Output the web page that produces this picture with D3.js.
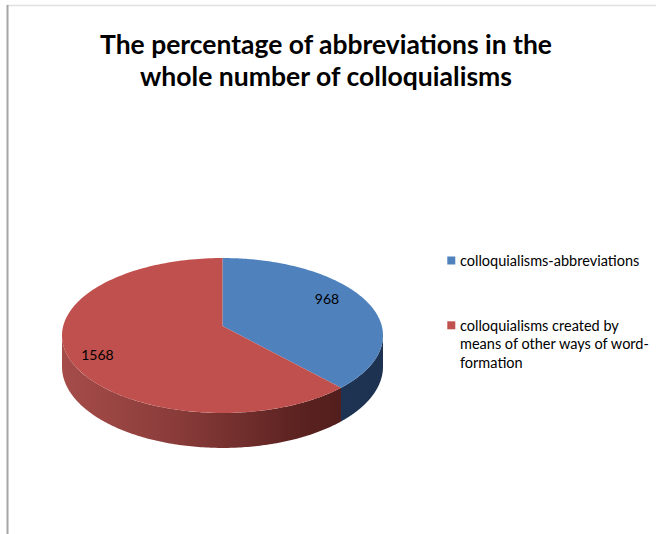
<!DOCTYPE html>
<html><head><meta charset="utf-8">
<script src="https://cdn.jsdelivr.net/npm/d3@7"></script>
<style>body{margin:0;background:#fff}svg{display:block}</style>
</head><body>
<script>
const categories = ["colloquialisms-abbreviations", "colloquialisms created by means of other ways of word-formation"];
const values = [968, 1568];
const legendLines = [["colloquialisms-abbreviations"], ["colloquialisms created by", "means of other ways of word-", "formation"]];
const titleLines = ["The percentage of abbreviations in the", "whole number of colloquialisms"];
const topColors = ["#4f81bd", "#c0504d"];

const W = 656, H = 534;
const svg = d3.select("body").append("svg").attr("width", W).attr("height", H);

// frame
svg.append("line").attr("x1", 7).attr("x2", W).attr("y1", 5.5).attr("y2", 5.5).attr("stroke", "#e0e0e0").attr("stroke-width", 1.5);
svg.append("line").attr("x1", 7.5).attr("x2", 7.5).attr("y1", 5).attr("y2", H).attr("stroke", "#a6a6a6").attr("stroke-width", 2);

// title
const title = svg.append("g").attr("font-family", "Lato, 'Open Sans', sans-serif").attr("font-weight", "bold").attr("font-size", 26).attr("fill", "#000").attr("text-anchor", "middle");
const titleW = [452, 372];
titleLines.forEach((t, i) => {
  title.append("text").attr("x", 326).attr("y", 54 + i * 32).attr("textLength", titleW[i]).attr("lengthAdjust", "spacingAndGlyphs").text(t);
});

// pie geometry with a simple perspective projection
const cx = 222.5, cy = 326, A = 159.3, B = 76.3, e = 0.1225, D = 30.7;
const pie = d3.pie().sort(null).value(d => d)(values);
const pt = (a, bottom) => {
  const u = Math.sin(a), v = Math.cos(a), w = 1 + e * v;
  return [cx + A * u / w, cy - B * v / w + (bottom ? D / w : 0)];
};

const defs = svg.append("defs");
const gRed = defs.append("linearGradient").attr("id", "sideRed").attr("gradientUnits", "userSpaceOnUse")
  .attr("x1", cx - A).attr("x2", cx + A).attr("y1", 0).attr("y2", 0);
gRed.append("stop").attr("offset", 0).attr("stop-color", "#a54c49");
gRed.append("stop").attr("offset", 0.35).attr("stop-color", "#8a3c3a");
gRed.append("stop").attr("offset", 0.75).attr("stop-color", "#5a2220");
gRed.append("stop").attr("offset", 1).attr("stop-color", "#4a1b1a");
const gBlue = defs.append("linearGradient").attr("id", "sideBlue").attr("gradientUnits", "userSpaceOnUse")
  .attr("x1", cx - A).attr("x2", cx + A).attr("y1", 0).attr("y2", 0);
gBlue.append("stop").attr("offset", 0).attr("stop-color", "#2a4468");
gBlue.append("stop").attr("offset", 1).attr("stop-color", "#1d3150");
const sideFill = ["url(#sideBlue)", "url(#sideRed)"];

const N = 160;
function arcPts(a0, a1, bottom) {
  const out = [];
  for (let k = 0; k <= N; k++) out.push(pt(a0 + (a1 - a0) * k / N, bottom));
  return out;
}
const visA = Math.acos(-e), visB = 2 * Math.PI - Math.acos(-e);
// sides (visible front part)
pie.forEach((s, i) => {
  const a0 = Math.max(s.startAngle, visA), a1 = Math.min(s.endAngle, visB);
  if (a1 <= a0) return;
  const top = arcPts(a0, a1, false), bot = arcPts(a1, a0, true);
  svg.append("path").attr("d", "M" + top.concat(bot).map(p => p.join(",")).join("L") + "Z")
    .attr("fill", sideFill[i]);
});
// tops
pie.forEach((s, i) => {
  const p = [[cx, cy]].concat(arcPts(s.startAngle, s.endAngle, false));
  svg.append("path").attr("d", "M" + p.map(q => q.join(",")).join("L") + "Z").attr("fill", topColors[i]);
});

// data labels
const labelPos = [[327, 304], [97.5, 359.5]];
pie.forEach((s, i) => {
  svg.append("text").attr("x", labelPos[i][0]).attr("y", labelPos[i][1])
    .attr("text-anchor", "middle").attr("font-family", "Lato, 'Open Sans', sans-serif").attr("font-size", 14).attr("fill", "#000")
    .text(s.data);
});

// legend
const lg = svg.append("g").attr("font-family", "Lato, 'Open Sans', sans-serif").attr("font-size", 14.5).attr("fill", "#000");
const legY = [260.5, 325.3];
categories.forEach((c, i) => {
  lg.append("rect").attr("x", 447.3).attr("y", legY[i] - 4).attr("width", 8).attr("height", 8).attr("fill", topColors[i]);
  legendLines[i].forEach((l, j) => {
    lg.append("text").attr("x", 460).attr("y", legY[i] + 5.2 + j * 18.5).text(l);
  });
});
</script>
</body></html>
